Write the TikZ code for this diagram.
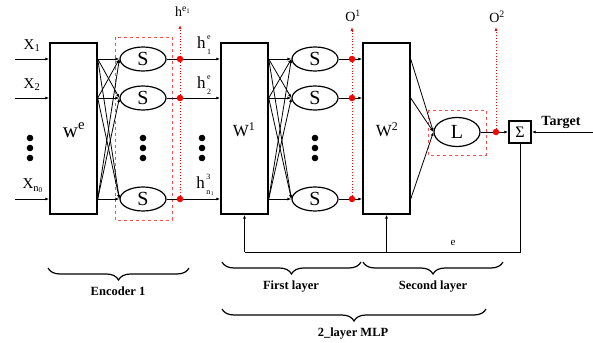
\documentclass[tikz,border=0pt]{standalone}
\usepackage{fontspec}
\setmainfont{Liberation Serif}
\usetikzlibrary{arrows.meta,shapes.geometric,decorations.pathreplacing}

\newcommand{\supsub}[4][6.5pt]{#2\kern1.5pt\raisebox{-5.5pt}{\fontsize{8}{8}\selectfont\shortstack[l]{#3\\[#1]#4}}}

\tikzset{
  wbox/.style={draw, line width=1.4pt, minimum width=47pt, minimum height=171pt, inner sep=0pt},
  neuron/.style={draw, ellipse, line width=1.2pt, minimum width=46pt, minimum height=24pt,
                 inner sep=0pt, font=\fontsize{20}{20}\selectfont},
  tap/.style={circle, fill=red, minimum size=6.5pt, inner sep=0pt},
  conn/.style={-{Latex[length=4pt,width=3pt]}, line width=0.8pt},
  probe/.style={red, dotted, line width=0.9pt, -{Latex[length=4pt,width=3pt]}},
  group/.style={draw=red!70, dashed, line width=0.7pt},
  lab/.style={font=\fontsize{15}{15}\selectfont, inner sep=0pt},
  mybrace/.style={decorate, decoration={brace, mirror, amplitude=12pt}, line width=1.2pt},
  bracelab/.style={font=\bfseries\fontsize{12.5}{12.5}\selectfont, inner sep=0pt}
}

\begin{document}
\begin{tikzpicture}[x=1pt, y=-1pt]
    \useasboundingbox (0,0) rectangle (593,342);

    % Weight boxes
    \node[wbox] (We) at (73.5,128.5) {};
    \node[wbox] (W1) at (244.5,128.5) {};
    \node[wbox] (W2) at (386.5,128.5) {};
    \node[lab, font=\fontsize{21}{21}\selectfont] (lWe) at (74,130) {w\textsuperscript{e}};
    \node[lab, font=\fontsize{17}{17}\selectfont] (lW1) at (244,130) {W\textsuperscript{1}};
    \node[lab, font=\fontsize{17}{17}\selectfont] (lW2) at (387,130) {W\textsuperscript{2}};

    % Encoder neurons and first layer neurons
    \foreach \i/\y in {1/59,2/98,3/199} {
        \node[neuron] (e\i) at (143,\y) {S};
        \node[neuron] (f\i) at (315,\y) {S};
        \node[tap] (r\i) at (180,\y) {};
        \node[tap] (t\i) at (352,\y) {};
    }

    % Output neuron and sum
    \node[neuron, minimum height=29pt] (L) at (457,132) {L};
    \node[tap] (o2) at (496,132) {};
    \node[draw, line width=1.4pt, minimum size=22pt, inner sep=0pt,
          font=\fontsize{16}{16}\selectfont] (sig) at (520,132) {Σ};

    % Groups
    \draw[group] (115,37) rectangle (172,220);
    \draw[group] (428,110) rectangle (486,155);

    % Inputs
    \foreach \i/\y in {1/59,2/98,3/199} {
        \coordinate (x\i) at (15,\y);
        \draw[conn] (x\i) -- (x\i -| We.west);
    }
    \node[lab] (lx1) at (32,46) {X\textsubscript{1}};
    \node[lab] (lx2) at (32,85) {X\textsubscript{2}};
    \node[lab] (lx3) at (33,186) {X\textsubscript{n\textsubscript{0}}};

    % Full connections
    \foreach \i in {1,2,3} {
        \foreach \j in {1,2,3} {
            \draw[conn] (We.east |- e\i) -- (e\j.west);
            \draw[conn] (W1.east |- f\i) -- (f\j.west);
        }
        \draw[conn] (W2.east |- f\i) -- (L.west);
        \draw[line width=0.8pt] (e\i) -- (r\i);
        \draw[conn] (r\i) -- (r\i -| W1.west);
        \draw[line width=0.8pt] (f\i) -- (t\i);
        \draw[conn] (t\i) -- (t\i -| W2.west);
    }
    \node[lab, font=\fontsize{17}{17}\selectfont] (lh1) at (204,45) {\supsub{h}{e}{1}};
    \node[lab, font=\fontsize{17}{17}\selectfont] (lh2) at (204,85) {\supsub{h}{e}{2}};
    \node[lab, font=\fontsize{17}{17}\selectfont] (lh3) at (205,185)
        {\supsub[8pt]{h}{3}{n\kern0.3pt\raisebox{-1.5pt}{\fontsize{5.5}{5.5}\selectfont 1}}};

    % Vertical dots
    \foreach \x in {30,143,202,315} {
        \foreach \y in {138,148,158} {
            \fill (\x,\y) circle (3.3pt);
        }
    }

    % Probes
    \coordinate (htop) at (180,25);
    \coordinate (o1top) at (352,27);
    \coordinate (o2top) at (496,27);
    \draw[probe] (r3.center) -- (htop);
    \draw[probe] (t3.center) -- (o1top);
    \draw[probe] (o2.center) -- (o2top);
    \node[lab, font=\fontsize{14}{14}\selectfont] (lhe) at (183,12) {h\textsuperscript{e\textsubscript{1}}};
    \node[lab, font=\fontsize{14}{14}\selectfont] (lo1) at (353,16) {O\textsuperscript{1}};
    \node[lab, font=\fontsize{14}{14}\selectfont] (lo2) at (497,17) {O\textsuperscript{2}};

    % Output and target
    \draw[line width=0.8pt] (L) -- (o2);
    \draw[conn] (o2) -- (sig);
    \coordinate (tgt) at (593,132);
    \draw[conn] (tgt) -- (sig);
    \node[lab, font=\bfseries\fontsize{14}{14}\selectfont] (ltgt) at (561,122) {Target};

    % Error feedback
    \coordinate (fb) at (520,252);
    \draw[line width=0.8pt] (sig) -- (sig |- fb) -- (W1 |- fb);
    \draw[conn] (W1 |- fb) -- (W1.south);
    \draw[conn] (W2 |- fb) -- (W2.south);
    \node[lab, font=\fontsize{11}{11}\selectfont] (le) at (453,243) {e};

    % Braces
    \draw[mybrace] (48,268) -- (189,268);
    \draw[mybrace] (222,262) -- (361,262);
    \draw[mybrace] (363,262) -- (503,262);
    \draw[mybrace] (222,309) -- (486,309);
    \node[bracelab] (lenc) at (118,291) {Encoder 1};
    \node[bracelab] (lfirst) at (291,287) {First layer};
    \node[bracelab] (lsecond) at (433,287) {Second layer};
    \node[bracelab] (lmlp) at (353,334) {2\_layer MLP};
\end{tikzpicture}
\end{document}
